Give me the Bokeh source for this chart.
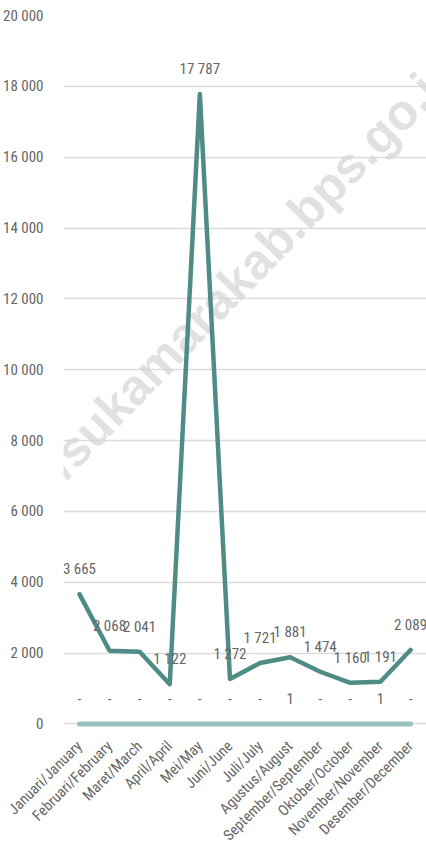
import math
from bokeh.plotting import figure
from bokeh.models import Range1d, FixedTicker, ColumnDataSource, LabelSet, Label, InlineStyleSheet
from bokeh.core.properties import value
from bokeh.embed import file_html
from bokeh.resources import INLINE

months = ["Januari/January", "Februari/February", "Maret/March", "April/April",
          "Mei/May", "Juni/June", "Juli/July", "Agustus/August",
          "September/September", "Oktober/October", "November/November",
          "Desember/December"]
series_main = [3665, 2068, 2041, 1122, 17787, 1272, 1721, 1881, 1474, 1160, 1191, 2089]
series_second = [0, 0, 0, 0, 0, 0, 0, 1, 0, 0, 1, 0]
y_ticks = [0, 2000, 4000, 6000, 8000, 10000, 12000, 14000, 16000, 18000, 20000]
y_tick_labels = ["0", "2 000", "4 000", "6 000", "8 000", "10 000", "12 000",
                 "14 000", "16 000", "18 000", "20 000"]

FONT = "Roboto Condensed, Noto Sans Condensed, DejaVu Sans Condensed, Liberation Sans Narrow, Noto Sans"
TXT = "#666666"

xs = list(range(len(months)))
src_main = ColumnDataSource(dict(x=xs, y=series_main,
                                 lab=[f"{v:,}".replace(",", " ") for v in series_main]))
src_sec = ColumnDataSource(dict(x=xs, y=series_second,
                                lab=["-" if v == 0 else str(v) for v in series_second]))

p = figure(width=426, height=853, output_backend="svg", toolbar_location=None,
           x_range=Range1d(-0.53, 11.53), y_range=Range1d(-100, 20000),
           min_border_left=62, min_border_right=0, min_border_top=15, min_border_bottom=124)
p.stylesheets = [InlineStyleSheet(css=":host { font-stretch: condensed; }")]
p.outline_line_color = None
p.background_fill_color = "white"

p.xgrid.grid_line_color = None
p.ygrid.grid_line_color = "#dcdcdc"
p.ygrid.grid_line_width = 1.5

p.yaxis.ticker = FixedTicker(ticks=y_ticks)
p.yaxis.major_label_overrides = dict(zip(y_ticks, y_tick_labels))
p.xaxis.ticker = FixedTicker(ticks=xs)
p.xaxis.major_label_overrides = dict(zip(xs, months))
p.xaxis.major_label_orientation = math.pi / 4
for ax in (p.xaxis, p.yaxis):
    ax.axis_line_color = None
    ax.major_tick_line_color = None
    ax.minor_tick_line_color = None
    ax.major_label_text_font = FONT
    ax.major_label_text_font_size = "15px"
    ax.major_label_text_color = TXT
p.yaxis.major_label_standoff = 14
p.xaxis.major_label_standoff = 10

wm = Label(x=136, y=408, x_units="screen", y_units="screen",
           text="https://sukamarakab.bps.go.id", angle=0.80,
           text_font="Liberation Sans", text_font_style="bold",
           text_font_size="50px", text_color="#d4d4d4", text_alpha=0.7,
           text_align="center", text_baseline="middle", level="underlay")
p.add_layout(wm)

p.line("x", "y", source=src_sec, line_color="#96c1bc", line_width=5, line_cap="round")
p.line("x", "y", source=src_main, line_color="#4f8c85", line_width=4.5,
       line_join="round", line_cap="round")

for src in (src_main, src_sec):
    ls = LabelSet(x="x", y="y", text="lab", source=src, y_offset=20,
                  text_align="center", text_baseline="alphabetic",
                  text_font=value(FONT), text_font_size="15px", text_color=TXT)
    p.add_layout(ls)

open("out.html", "w").write(file_html(p, INLINE))
